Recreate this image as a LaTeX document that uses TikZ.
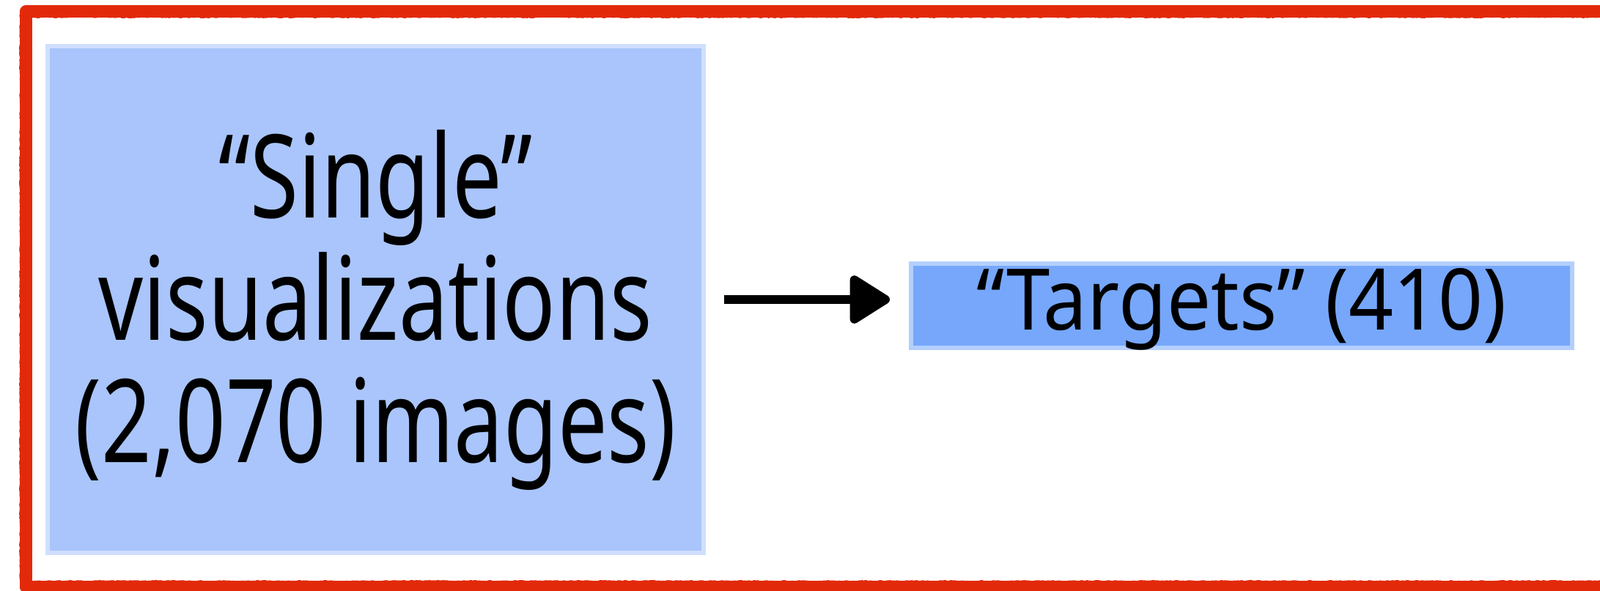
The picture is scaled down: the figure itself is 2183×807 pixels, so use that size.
\documentclass[tikz,border=0pt]{standalone}
\usepackage{fontspec}
\setmainfont{Noto Sans}
\newfontfamily\bigfont{Noto Sans}[FakeStretch=0.76]
\newfontfamily\smallfont{Noto Sans}[FakeStretch=0.92]
\usetikzlibrary{arrows.meta,decorations.pathmorphing}
\definecolor{frameRed}{HTML}{E22A0B}
\definecolor{lightBlue}{HTML}{A9C5FB}
\definecolor{midBlue}{HTML}{76A7FB}
\tikzset{
  bigbox/.style={fill=lightBlue, draw=lightBlue!55!white, line width=3pt, inner sep=0pt,
    minimum width=447.5pt, minimum height=346pt},
  bigtext/.style={inner sep=0pt, align=center, font=\bigfont\fontsize{79}{83.5}\selectfont},
  smallbox/.style={fill=midBlue, draw=midBlue!55!white, line width=3pt, inner sep=0pt,
    minimum width=451pt, minimum height=57.5pt},
  smalltext/.style={inner sep=0pt, anchor=base, font=\smallfont\fontsize{58}{60}\selectfont},
  brush/.style={line width=6pt, black, shorten <=12.5pt, shorten >=13pt,
    -{Triangle[length=30pt,width=36pt,round]}},
  redframe/.style={draw=frameRed, line width=8.5pt, line join=round},
  redrough/.style={draw=frameRed, line width=8pt, line join=round,
    decorate, decoration={random steps, segment length=1pt, amplitude=0.5pt}}
}
\begin{document}
\begin{tikzpicture}[x=0.5pt,y=-0.5pt]
\useasboundingbox (0,0) rectangle (2183,807);
\fill[white] (0,0) rectangle (2183,807);
\path[redframe] (35,16) -- (2220,16) -- (2220,801) -- (35,801) -- cycle;
\path[redrough] (35,16) -- (2220,16) -- (2220,801) -- (35,801) -- cycle;
\node[bigbox] (single) at (512.5,409) {};
\node[bigtext] (singletext) at (512.5,423) {“Single”\\visualizations\\(2,070 images)};
\node[smallbox] (targets) at (1694,417.5) {};
\node[smalltext] (targetstext) at (1694,450) {“Targets” (410)};
\draw[brush] (single.east) -- (single.east -| targets.west);
\end{tikzpicture}
\end{document}
